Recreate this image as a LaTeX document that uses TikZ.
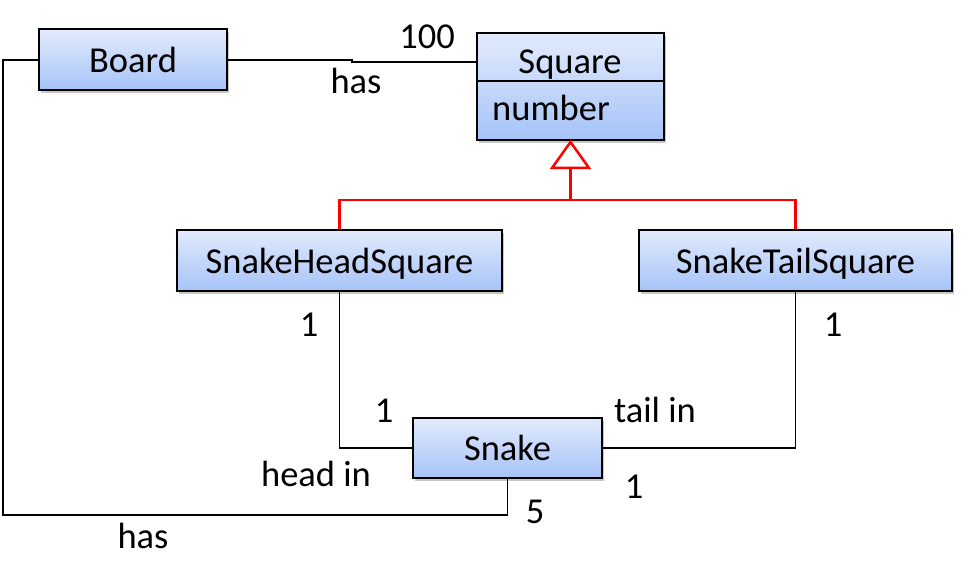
\documentclass[tikz,border=0pt]{standalone}
\usepackage{fontspec}
\setmainfont{Carlito}
\usetikzlibrary{shadows}
\definecolor{boxtop}{HTML}{E2EBFC}
\definecolor{boxbot}{HTML}{A6C3F8}
\definecolor{genred}{HTML}{FF0000}
\tikzset{
  umlbox/.style={draw=black, line width=2pt, top color=boxtop, bottom color=boxbot,
    drop shadow={shadow xshift=2pt, shadow yshift=-3pt, opacity=0.22, fill=black},
    inner sep=0pt, text depth=0pt, font=\fontsize{36.5}{40}\selectfont},
  lbl/.style={font=\fontsize{36.5}{40}\selectfont, inner sep=0pt},
  assoc/.style={draw=black, line width=1.5pt},
  gen/.style={draw=genred, line width=2.5pt},
}
\begin{document}
\begin{tikzpicture}[x=1pt, y=-1pt]
\useasboundingbox (0,0) rectangle (961,580);
% classes
\node[umlbox, minimum width=188pt, minimum height=61pt] (board) at (133,60) {Board};
\node[umlbox, minimum width=187pt, minimum height=107pt] (square) at (570.5,86.5) {};
\draw[line width=2pt] (square.west |- 0,81) -- (square.east |- 0,81);
\node[lbl, anchor=base] (sqname) at (570,74) {Square};
\node[lbl, anchor=base west] (sqattr) at (492,121) {number};
\node[umlbox, minimum width=325pt, minimum height=61pt] (head) at (339.5,260.5) {SnakeHeadSquare};
\node[umlbox, minimum width=313pt, minimum height=61pt] (tail) at (795.5,260.5) {SnakeTailSquare};
\node[umlbox, minimum width=189pt, minimum height=60pt] (snake) at (507.5,448) {Snake};
% generalization
\coordinate (tip) at (570.5,142);
\coordinate (gbase) at (570.5,168);
\coordinate (gjoin) at (570.5,200);
\draw[gen, fill=white] (tip) -- (552,168) -- (589,168) -- cycle;
\draw[gen] (gbase) -- (gjoin);
\draw[gen] (head.north) |- (gjoin) -| (tail.north);
% associations
\coordinate (jog1) at (352,60);
\coordinate (jog2) at (352,62);
\draw[assoc] (board.east) -- (jog1) -- (jog2) -- (square.west |- jog2);
\draw[assoc] (head.south) |- (snake.west);
\draw[assoc] (tail.south) |- (snake.east);
\coordinate (bl1) at (3,515);
\draw[assoc] (snake.south) |- (bl1) |- (board.west);
% labels
\node[lbl] (l100) at (427,37) {100};
\node[lbl] (lhas1) at (356,81) {has};
\node[lbl] (lh1) at (309,325) {1};
\node[lbl] (lt1) at (833,325) {1};
\node[lbl] (ls1) at (384,411) {1};
\node[lbl] (ltail) at (655,410) {tail in};
\node[lbl] (lhead) at (316,474) {head in};
\node[lbl] (ls2) at (634,487) {1};
\node[lbl] (l5) at (535,512) {5};
\node[lbl] (lhas2) at (143,536) {has};
\end{tikzpicture}
\end{document}
